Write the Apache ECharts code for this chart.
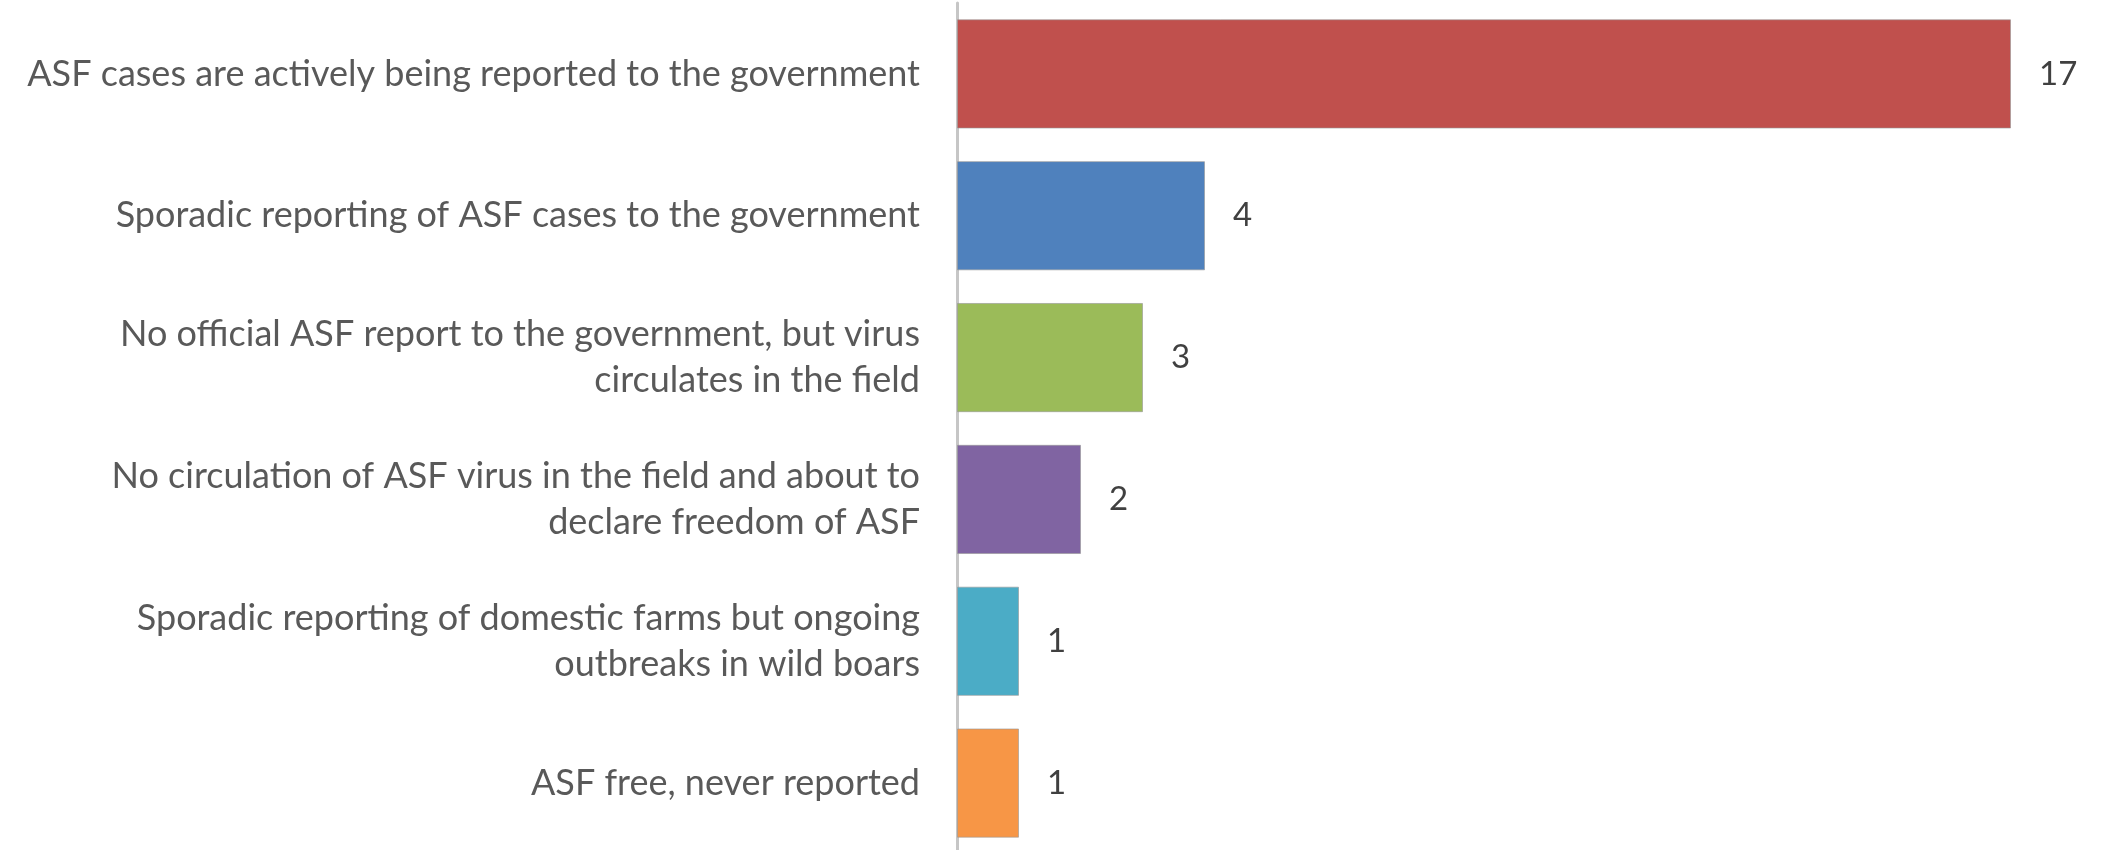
<!DOCTYPE html>
<html>
<head>
<meta charset="utf-8">
<script src="https://cdn.jsdelivr.net/npm/echarts@6/dist/echarts.min.js"></script>
<style>
  html, body { margin: 0; padding: 0; background: #fff; }
  #chart { width: 2103px; height: 850px; }
</style>
</head>
<body>
<div id="chart"></div>
<script>
// categories, top to bottom
const categories = [
  "ASF cases are actively being reported to the government",
  "Sporadic reporting of ASF cases to the government",
  "No official ASF report to the government, but virus\ncirculates in the field",
  "No circulation of ASF virus in the field and about to\ndeclare freedom of ASF",
  "Sporadic reporting of domestic farms but ongoing\noutbreaks in wild boars",
  "ASF free, never reported"
];
const counts = [17, 4, 3, 2, 1, 1];

// office palette, one colour per bar
const palette = ["#C0504D", "#4F81BD", "#9BBB59", "#8064A2", "#4BACC6", "#F79646"];

const chart = echarts.init(document.getElementById("chart"));

chart.setOption({
  animation: false,
  grid: { left: 957, right: 30, top: 3, height: 851, outerBoundsMode: "none" },
  xAxis: {
    type: "value",
    min: 0,
    max: 18,
    show: false
  },
  yAxis: {
    type: "category",
    inverse: true,
    data: categories,
    axisLine: { show: true, lineStyle: { color: "#c6c6c6", width: 3 } },
    axisTick: { show: false },
    axisLabel: {
      margin: 37,
      fontFamily: "Lato",
      fontSize: 36,
      lineHeight: 46,
      color: "#595959",
      align: "right"
    }
  },
  series: [{
    type: "bar",
    barCategoryGap: "23%",
    data: counts.map((v, i) => ({
      value: v,
      itemStyle: { color: palette[i] }
    })),
    itemStyle: { borderColor: "rgba(150,150,150,0.6)", borderWidth: 1 },
    label: {
      show: true,
      position: "right",
      distance: 28,
      fontFamily: "Lato",
      fontSize: 33,
      color: "#404040"
    }
  }]
});
</script>
</body>
</html>
